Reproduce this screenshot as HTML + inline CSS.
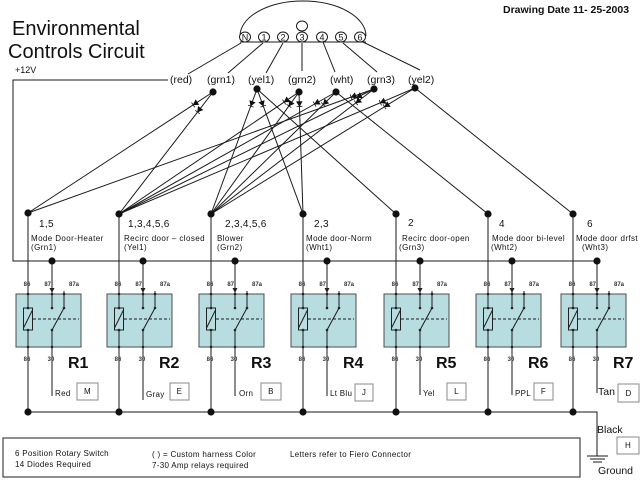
<!DOCTYPE html>
<html><head><meta charset="utf-8"><style>
html,body{margin:0;padding:0;background:#fff;}
svg{display:block;}
.l{stroke:#1a1a1a;stroke-width:1;fill:none;}
.pin{font-size:6px;fill:#333;font-weight:bold;}
.rl{font-size:16px;font-weight:bold;fill:#111;}
.num{font-size:10px;fill:#111;letter-spacing:0.3px;}
.ds{font-size:8px;fill:#111;letter-spacing:0.4px;}
.lab{font-size:10.5px;fill:#111;}
.sm{font-size:8px;fill:#111;letter-spacing:0.3px;}
.bx{fill:#fff;stroke:#888;stroke-width:1;}
.rb{fill:#b8dde1;stroke:#4d4d4d;stroke-width:1;}
</style></head><body>
<svg width="640" height="480" viewBox="0 0 640 480" font-family="Liberation Sans, Arial, sans-serif">
<defs>
<marker id="d" viewBox="-5 -5 10 10" markerWidth="10" markerHeight="10" refX="0" refY="0" orient="auto" markerUnits="userSpaceOnUse">
<path d="M-2.5,-2.6 L2,0 L-2.5,2.6 Z M2.2,-2.9 L2.2,2.9" fill="#111" stroke="#111" stroke-width="0.8"/>
</marker>
</defs>

<!-- Title -->
<text x="12" y="35" font-size="20" fill="#111">Environmental</text>
<text x="8" y="58" font-size="20" fill="#111">Controls Circuit</text>
<text x="503" y="13" font-size="10.5" font-weight="bold" fill="#111">Drawing Date 11- 25-2003</text>

<!-- Rotary switch -->
<path class="l" d="M240,36 A63,35 0 0 1 366,36"/>
<line class="l" x1="240" y1="42" x2="366" y2="42"/>
<g fill="#fff" stroke="#1a1a1a" stroke-width="1">
<ellipse cx="245" cy="37" rx="5.5" ry="5"/>
<ellipse cx="264" cy="37" rx="5.5" ry="5"/>
<ellipse cx="283" cy="37" rx="5.5" ry="5"/>
<ellipse cx="302" cy="37" rx="5.5" ry="5"/>
<ellipse cx="322" cy="37" rx="5.5" ry="5"/>
<ellipse cx="341" cy="37" rx="5.5" ry="5"/>
<ellipse cx="360" cy="37" rx="5.5" ry="5"/>
<ellipse cx="302" cy="26" rx="5.5" ry="5"/>
</g>
<g font-size="9" fill="#111" text-anchor="middle">
<text x="245" y="40.5">N</text>
<text x="264" y="40.5">1</text>
<text x="283" y="40.5">2</text>
<text x="302" y="40.5">3</text>
<text x="322" y="40.5">4</text>
<text x="341" y="40.5">5</text>
<text x="360" y="40.5">6</text>
</g>
<g class="l">
<line x1="241" y1="43" x2="188" y2="74"/>
<line x1="263" y1="43" x2="228" y2="73"/>
<line x1="283" y1="43" x2="266" y2="73"/>
<line x1="302" y1="43" x2="302" y2="71"/>
<line x1="323" y1="42" x2="335" y2="72"/>
<line x1="343" y1="43" x2="377" y2="72"/>
<line x1="363" y1="42" x2="420" y2="70"/>
</g>
<g class="lab">
<text x="170" y="83">(red)</text>
<text x="207" y="83">(grn1)</text>
<text x="248" y="83">(yel1)</text>
<text x="288" y="83">(grn2)</text>
<text x="330" y="83">(wht)</text>
<text x="367" y="83">(grn3)</text>
<text x="408" y="83">(yel2)</text>
</g>

<!-- +12V -->
<text x="15" y="73" font-size="9" fill="#111">+12V</text>
<polyline class="l" points="168,80 13,80 13,261 597,261"/>

<!-- Diode lines -->
<g class="l" marker-mid="url(#d)">
<polyline points="213,92 195,103.7 28,213"/>
<polyline points="213,92 198.9,110.3 119,214"/>
<polyline points="257,89 251.5,104 211,214"/>
<polyline points="257,89 262.5,104 303,214"/>
<polyline points="299,92 286,100.8 119,214"/>
<polyline points="299,92 290.2,104.2 211,214"/>
<polyline points="299,92 299.4,104.2 303,214"/>
<polyline points="336,92 316.5,103 119,214"/>
<polyline points="336,92 324.8,103 211,214"/>
<polyline points="374,89 353.2,96.4 28,213"/>
<polyline points="374,89 358.7,96.5 119,214"/>
<polyline points="374,89 357.7,101.5 211,214"/>
<polyline points="415,88 382.4,101.9 119,214"/>
<polyline points="415,88 386.4,105.6 211,214"/>
</g>
<g class="l">
<line x1="257" y1="89" x2="396" y2="214"/>
<line x1="336" y1="92" x2="488" y2="214"/>
<line x1="415" y1="88" x2="573" y2="214"/>
</g>
<g fill="#111">
<circle cx="213" cy="92" r="3.6"/>
<circle cx="257" cy="89" r="3.6"/>
<circle cx="299" cy="92" r="3.6"/>
<circle cx="336" cy="92" r="3.6"/>
<circle cx="374" cy="89" r="3.6"/>
<circle cx="415" cy="88" r="3.6"/>
</g>

<!-- vertical 86 lines and 87 lines, 30 lines -->
<g class="l">
<line x1="28" y1="213" x2="28" y2="412"/>
<line x1="119" y1="214" x2="119" y2="412"/>
<line x1="211" y1="214" x2="211" y2="412"/>
<line x1="303" y1="214" x2="303" y2="412"/>
<line x1="396" y1="214" x2="396" y2="412"/>
<line x1="488" y1="214" x2="488" y2="412"/>
<line x1="573" y1="214" x2="573" y2="412"/>
<line x1="52" y1="261" x2="52" y2="292"/>
<line x1="143" y1="261" x2="143" y2="292"/>
<line x1="235" y1="261" x2="235" y2="292"/>
<line x1="327" y1="261" x2="327" y2="292"/>
<line x1="420" y1="261" x2="420" y2="292"/>
<line x1="512" y1="261" x2="512" y2="292"/>
<line x1="597" y1="261" x2="597" y2="292"/>
<line x1="52" y1="347" x2="52" y2="396"/>
<line x1="143" y1="347" x2="143" y2="400"/>
<line x1="235" y1="347" x2="235" y2="396"/>
<line x1="327" y1="347" x2="327" y2="396"/>
<line x1="420" y1="347" x2="420" y2="395"/>
<line x1="512" y1="347" x2="512" y2="395"/>
<line x1="597" y1="347" x2="597" y2="393"/>
<polyline points="28,412 597,412 597,456"/>
<line x1="587" y1="456" x2="608" y2="456"/>
<line x1="590" y1="459" x2="605" y2="459"/>
<line x1="593" y1="462" x2="602" y2="462"/>
</g>
<g fill="#111">
<circle cx="28" cy="213" r="3.6"/><circle cx="119" cy="214" r="3.6"/><circle cx="211" cy="214" r="3.6"/><circle cx="303" cy="214" r="3.6"/><circle cx="396" cy="214" r="3.6"/><circle cx="488" cy="214" r="3.6"/><circle cx="573" cy="214" r="3.6"/>
<circle cx="52" cy="261" r="3.6"/><circle cx="143" cy="261" r="3.6"/><circle cx="235" cy="261" r="3.6"/><circle cx="327" cy="261" r="3.6"/><circle cx="420" cy="261" r="3.6"/><circle cx="512" cy="261" r="3.6"/><circle cx="597" cy="261" r="3.6"/>
<circle cx="28" cy="412" r="3.6"/><circle cx="119" cy="412" r="3.6"/><circle cx="211" cy="412" r="3.6"/><circle cx="303" cy="412" r="3.6"/><circle cx="396" cy="412" r="3.6"/><circle cx="488" cy="412" r="3.6"/><circle cx="573" cy="412" r="3.6"/>
</g>

<!-- Relay descriptions -->
<text class="num" x="39" y="227">1,5</text>
<text class="ds" x="31" y="241">Mode Door-Heater</text>
<text class="ds" x="31" y="250">(Grn1)</text>
<text class="num" x="128" y="227">1,3,4,5,6</text>
<text class="ds" x="124" y="241">Recirc door – closed</text>
<text class="ds" x="124" y="250">(Yel1)</text>
<text class="num" x="225" y="227">2,3,4,5,6</text>
<text class="ds" x="217" y="241">Blower</text>
<text class="ds" x="217" y="250">(Grn2)</text>
<text class="num" x="314" y="227">2,3</text>
<text class="ds" x="306" y="241">Mode door-Norm</text>
<text class="ds" x="306" y="250">(Wht1)</text>
<text class="num" x="408" y="226">2</text>
<text class="ds" x="402" y="241">Recirc door-open</text>
<text class="ds" x="399" y="250">(Grn3)</text>
<text class="num" x="499" y="227">4</text>
<text class="ds" x="492" y="241">Mode door bi-level</text>
<text class="ds" x="491" y="250">(Wht2)</text>
<text class="num" x="587" y="227">6</text>
<text class="ds" x="576" y="241">Mode door drfst</text>
<text class="ds" x="582" y="250">(Wht3)</text>

<!-- Relays -->
<g transform="translate(16,0)">
<text class="pin" x="11" y="286" text-anchor="middle">86</text><text class="pin" x="35" y="286" text-anchor="end">87</text><text class="pin" x="53" y="286">87a</text>
<rect class="rb" x="0" y="294" width="65" height="53"/>
<g class="l"><line x1="12" y1="294" x2="12" y2="347"/><line x1="17" y1="319" x2="63" y2="319" stroke-dasharray="3,2"/><line x1="36" y1="292" x2="36" y2="308"/><line x1="48" y1="291" x2="48" y2="308"/><line x1="36" y1="330" x2="48" y2="308"/><line x1="36" y1="330" x2="36" y2="347"/></g>
<rect x="7.5" y="308" width="9" height="22" fill="#b8dde1" stroke="#222"/><line class="l" x1="7.5" y1="328" x2="16.5" y2="310"/>
<path d="M33.5,288 L38.5,288 L36,293 Z" fill="#222"/>
<g fill="#222"><circle cx="12" cy="294" r="1.3"/><circle cx="36" cy="294" r="1.3"/><circle cx="48" cy="294" r="1.3"/><circle cx="12" cy="308" r="1.3"/><circle cx="12" cy="330" r="1.3"/><circle cx="36" cy="308" r="1.3"/><circle cx="48" cy="308" r="1.3"/><circle cx="36" cy="330" r="1.3"/><circle cx="12" cy="347" r="1.3"/><circle cx="36" cy="347" r="1.3"/></g>
<text class="pin" x="11" y="361" text-anchor="middle">86</text><text class="pin" x="35" y="361" text-anchor="middle">30</text>
<text class="rl" x="52" y="368">R1</text>
</g>
<g transform="translate(107,0)">
<text class="pin" x="11" y="286" text-anchor="middle">86</text><text class="pin" x="35" y="286" text-anchor="end">87</text><text class="pin" x="53" y="286">87a</text>
<rect class="rb" x="0" y="294" width="65" height="53"/>
<g class="l"><line x1="12" y1="294" x2="12" y2="347"/><line x1="17" y1="319" x2="63" y2="319" stroke-dasharray="3,2"/><line x1="36" y1="292" x2="36" y2="308"/><line x1="48" y1="291" x2="48" y2="308"/><line x1="36" y1="330" x2="48" y2="308"/><line x1="36" y1="330" x2="36" y2="347"/></g>
<rect x="7.5" y="308" width="9" height="22" fill="#b8dde1" stroke="#222"/><line class="l" x1="7.5" y1="328" x2="16.5" y2="310"/>
<path d="M33.5,288 L38.5,288 L36,293 Z" fill="#222"/>
<g fill="#222"><circle cx="12" cy="294" r="1.3"/><circle cx="36" cy="294" r="1.3"/><circle cx="48" cy="294" r="1.3"/><circle cx="12" cy="308" r="1.3"/><circle cx="12" cy="330" r="1.3"/><circle cx="36" cy="308" r="1.3"/><circle cx="48" cy="308" r="1.3"/><circle cx="36" cy="330" r="1.3"/><circle cx="12" cy="347" r="1.3"/><circle cx="36" cy="347" r="1.3"/></g>
<text class="pin" x="11" y="361" text-anchor="middle">86</text><text class="pin" x="35" y="361" text-anchor="middle">30</text>
<text class="rl" x="52" y="368">R2</text>
</g>
<g transform="translate(199,0)">
<text class="pin" x="11" y="286" text-anchor="middle">86</text><text class="pin" x="35" y="286" text-anchor="end">87</text><text class="pin" x="53" y="286">87a</text>
<rect class="rb" x="0" y="294" width="65" height="53"/>
<g class="l"><line x1="12" y1="294" x2="12" y2="347"/><line x1="17" y1="319" x2="63" y2="319" stroke-dasharray="3,2"/><line x1="36" y1="292" x2="36" y2="308"/><line x1="48" y1="291" x2="48" y2="308"/><line x1="36" y1="330" x2="48" y2="308"/><line x1="36" y1="330" x2="36" y2="347"/></g>
<rect x="7.5" y="308" width="9" height="22" fill="#b8dde1" stroke="#222"/><line class="l" x1="7.5" y1="328" x2="16.5" y2="310"/>
<path d="M33.5,288 L38.5,288 L36,293 Z" fill="#222"/>
<g fill="#222"><circle cx="12" cy="294" r="1.3"/><circle cx="36" cy="294" r="1.3"/><circle cx="48" cy="294" r="1.3"/><circle cx="12" cy="308" r="1.3"/><circle cx="12" cy="330" r="1.3"/><circle cx="36" cy="308" r="1.3"/><circle cx="48" cy="308" r="1.3"/><circle cx="36" cy="330" r="1.3"/><circle cx="12" cy="347" r="1.3"/><circle cx="36" cy="347" r="1.3"/></g>
<text class="pin" x="11" y="361" text-anchor="middle">86</text><text class="pin" x="35" y="361" text-anchor="middle">30</text>
<text class="rl" x="52" y="368">R3</text>
</g>
<g transform="translate(291,0)">
<text class="pin" x="11" y="286" text-anchor="middle">86</text><text class="pin" x="35" y="286" text-anchor="end">87</text><text class="pin" x="53" y="286">87a</text>
<rect class="rb" x="0" y="294" width="65" height="53"/>
<g class="l"><line x1="12" y1="294" x2="12" y2="347"/><line x1="17" y1="319" x2="63" y2="319" stroke-dasharray="3,2"/><line x1="36" y1="292" x2="36" y2="308"/><line x1="48" y1="291" x2="48" y2="308"/><line x1="36" y1="330" x2="48" y2="308"/><line x1="36" y1="330" x2="36" y2="347"/></g>
<rect x="7.5" y="308" width="9" height="22" fill="#b8dde1" stroke="#222"/><line class="l" x1="7.5" y1="328" x2="16.5" y2="310"/>
<path d="M33.5,288 L38.5,288 L36,293 Z" fill="#222"/>
<g fill="#222"><circle cx="12" cy="294" r="1.3"/><circle cx="36" cy="294" r="1.3"/><circle cx="48" cy="294" r="1.3"/><circle cx="12" cy="308" r="1.3"/><circle cx="12" cy="330" r="1.3"/><circle cx="36" cy="308" r="1.3"/><circle cx="48" cy="308" r="1.3"/><circle cx="36" cy="330" r="1.3"/><circle cx="12" cy="347" r="1.3"/><circle cx="36" cy="347" r="1.3"/></g>
<text class="pin" x="11" y="361" text-anchor="middle">86</text><text class="pin" x="35" y="361" text-anchor="middle">30</text>
<text class="rl" x="52" y="368">R4</text>
</g>
<g transform="translate(384,0)">
<text class="pin" x="11" y="286" text-anchor="middle">86</text><text class="pin" x="35" y="286" text-anchor="end">87</text><text class="pin" x="53" y="286">87a</text>
<rect class="rb" x="0" y="294" width="65" height="53"/>
<g class="l"><line x1="12" y1="294" x2="12" y2="347"/><line x1="17" y1="319" x2="63" y2="319" stroke-dasharray="3,2"/><line x1="36" y1="292" x2="36" y2="308"/><line x1="48" y1="291" x2="48" y2="308"/><line x1="36" y1="330" x2="48" y2="308"/><line x1="36" y1="330" x2="36" y2="347"/></g>
<rect x="7.5" y="308" width="9" height="22" fill="#b8dde1" stroke="#222"/><line class="l" x1="7.5" y1="328" x2="16.5" y2="310"/>
<path d="M33.5,288 L38.5,288 L36,293 Z" fill="#222"/>
<g fill="#222"><circle cx="12" cy="294" r="1.3"/><circle cx="36" cy="294" r="1.3"/><circle cx="48" cy="294" r="1.3"/><circle cx="12" cy="308" r="1.3"/><circle cx="12" cy="330" r="1.3"/><circle cx="36" cy="308" r="1.3"/><circle cx="48" cy="308" r="1.3"/><circle cx="36" cy="330" r="1.3"/><circle cx="12" cy="347" r="1.3"/><circle cx="36" cy="347" r="1.3"/></g>
<text class="pin" x="11" y="361" text-anchor="middle">86</text><text class="pin" x="35" y="361" text-anchor="middle">30</text>
<text class="rl" x="52" y="368">R5</text>
</g>
<g transform="translate(476,0)">
<text class="pin" x="11" y="286" text-anchor="middle">86</text><text class="pin" x="35" y="286" text-anchor="end">87</text><text class="pin" x="53" y="286">87a</text>
<rect class="rb" x="0" y="294" width="65" height="53"/>
<g class="l"><line x1="12" y1="294" x2="12" y2="347"/><line x1="17" y1="319" x2="63" y2="319" stroke-dasharray="3,2"/><line x1="36" y1="292" x2="36" y2="308"/><line x1="48" y1="291" x2="48" y2="308"/><line x1="36" y1="330" x2="48" y2="308"/><line x1="36" y1="330" x2="36" y2="347"/></g>
<rect x="7.5" y="308" width="9" height="22" fill="#b8dde1" stroke="#222"/><line class="l" x1="7.5" y1="328" x2="16.5" y2="310"/>
<path d="M33.5,288 L38.5,288 L36,293 Z" fill="#222"/>
<g fill="#222"><circle cx="12" cy="294" r="1.3"/><circle cx="36" cy="294" r="1.3"/><circle cx="48" cy="294" r="1.3"/><circle cx="12" cy="308" r="1.3"/><circle cx="12" cy="330" r="1.3"/><circle cx="36" cy="308" r="1.3"/><circle cx="48" cy="308" r="1.3"/><circle cx="36" cy="330" r="1.3"/><circle cx="12" cy="347" r="1.3"/><circle cx="36" cy="347" r="1.3"/></g>
<text class="pin" x="11" y="361" text-anchor="middle">86</text><text class="pin" x="35" y="361" text-anchor="middle">30</text>
<text class="rl" x="52" y="368">R6</text>
</g>
<g transform="translate(561,0)">
<text class="pin" x="11" y="286" text-anchor="middle">86</text><text class="pin" x="35" y="286" text-anchor="end">87</text><text class="pin" x="53" y="286">87a</text>
<rect class="rb" x="0" y="294" width="65" height="53"/>
<g class="l"><line x1="12" y1="294" x2="12" y2="347"/><line x1="17" y1="319" x2="63" y2="319" stroke-dasharray="3,2"/><line x1="36" y1="292" x2="36" y2="308"/><line x1="48" y1="291" x2="48" y2="308"/><line x1="36" y1="330" x2="48" y2="308"/><line x1="36" y1="330" x2="36" y2="347"/></g>
<rect x="7.5" y="308" width="9" height="22" fill="#b8dde1" stroke="#222"/><line class="l" x1="7.5" y1="328" x2="16.5" y2="310"/>
<path d="M33.5,288 L38.5,288 L36,293 Z" fill="#222"/>
<g fill="#222"><circle cx="12" cy="294" r="1.3"/><circle cx="36" cy="294" r="1.3"/><circle cx="48" cy="294" r="1.3"/><circle cx="12" cy="308" r="1.3"/><circle cx="12" cy="330" r="1.3"/><circle cx="36" cy="308" r="1.3"/><circle cx="48" cy="308" r="1.3"/><circle cx="36" cy="330" r="1.3"/><circle cx="12" cy="347" r="1.3"/><circle cx="36" cy="347" r="1.3"/></g>
<text class="pin" x="11" y="361" text-anchor="middle">86</text><text class="pin" x="35" y="361" text-anchor="middle">30</text>
<text class="rl" x="52" y="368">R7</text>
</g>

<!-- Wire colours and connector letters -->
<text class="sm" x="55" y="396">Red</text>
<rect class="bx" x="77" y="383" width="21" height="17"/><text class="sm" x="87.5" y="394" text-anchor="middle">M</text>
<text class="sm" x="146" y="397">Gray</text>
<rect class="bx" x="170" y="383" width="19" height="17"/><text class="sm" x="179.5" y="394" text-anchor="middle">E</text>
<text class="sm" x="239" y="396">Orn</text>
<rect class="bx" x="261" y="383" width="20" height="17"/><text class="sm" x="271" y="394" text-anchor="middle">B</text>
<text class="sm" x="330" y="396">Lt Blu</text>
<rect class="bx" x="355" y="384" width="18" height="17"/><text class="sm" x="364" y="395" text-anchor="middle">J</text>
<text class="sm" x="423" y="396">Yel</text>
<rect class="bx" x="447" y="383" width="19" height="17"/><text class="sm" x="456.5" y="394" text-anchor="middle">L</text>
<text class="sm" x="515" y="396">PPL</text>
<rect class="bx" x="534" y="383" width="19" height="17"/><text class="sm" x="543.5" y="394" text-anchor="middle">F</text>
<text class="lab" x="598" y="395">Tan</text>
<rect class="bx" x="618" y="384" width="21" height="18"/><text class="sm" x="628.5" y="396" text-anchor="middle">D</text>

<text class="lab" x="597" y="433">Black</text>
<rect class="bx" x="617" y="437" width="22" height="17"/><text class="sm" x="628" y="448" text-anchor="middle">H</text>
<text class="lab" x="598" y="474">Ground</text>

<!-- Legend -->
<rect x="3" y="438" width="577" height="39" fill="#fff" stroke="#444" stroke-width="1.2"/>
<text class="sm" x="15" y="456">6 Position Rotary Switch</text>
<text class="sm" x="15" y="467">14 Diodes Required</text>
<text class="sm" x="152" y="457">( ) = Custom harness Color</text>
<text class="sm" x="152" y="468">7-30 Amp relays required</text>
<text class="sm" x="290" y="457">Letters refer to Fiero Connector</text>
</svg>
</body></html>
